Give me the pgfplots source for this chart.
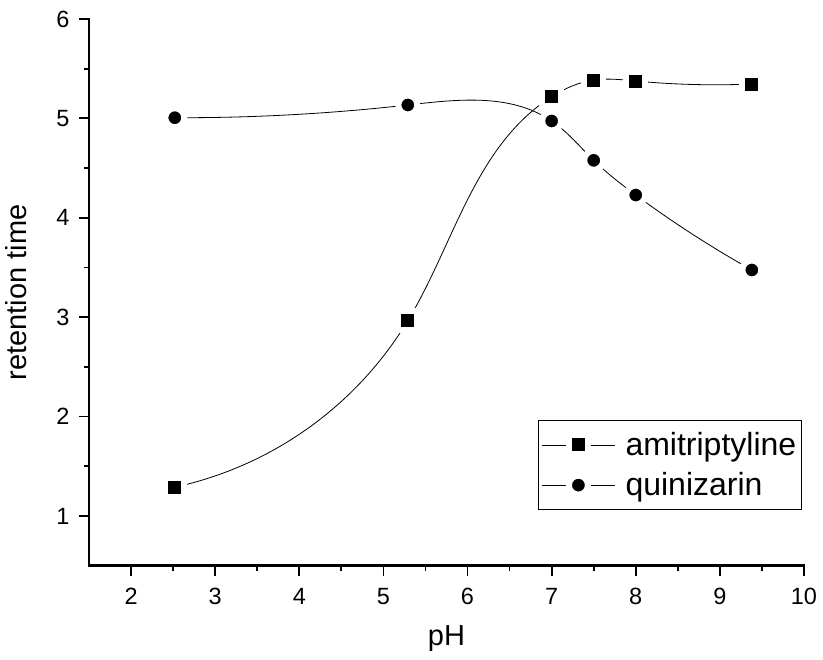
\documentclass[border=0pt]{standalone}
\usepackage{fontspec}
\setmainfont{Liberation Sans}
\usepackage{pgfplots}
\pgfplotsset{compat=1.18}
\usetikzlibrary{hobby}
\begin{document}
\begin{tikzpicture}
\path (-89pt,-94.3pt) rectangle (734pt,565.7pt);
\begin{axis}[
  at={(0pt,0pt)}, anchor=south west,
  scale only axis, width=715pt, height=546.7pt,
  xmin=1.5, xmax=10, ymin=0.5, ymax=6,
  axis x line*=bottom, axis y line*=left,
  axis line style={line width=2.4pt, line cap=rect},
  xtick={2,3,...,10}, ytick={1,2,...,6},
  minor x tick num=1, minor y tick num=1,
  tick align=outside, major tick length=10pt, minor tick length=5pt,
  every tick/.style={black, line width=1.8pt},
  tick label style={font=\fontsize{23.5}{28}\selectfont},
  xticklabel style={yshift=-9pt},
  yticklabel style={xshift=-6pt},
  /pgf/number format/assume math mode=true,
  label style={font=\fontsize{29}{34}\selectfont},
  xlabel={pH}, ylabel={retention time},
  xlabel shift=14pt, ylabel shift=23pt,
  legend style={at={(rel axis cs:0.997,0.2665)}, anchor=north east,
    draw=black, line width=1.2pt, font=\fontsize{32}{38}\selectfont,
    cells={anchor=west}, row sep=11.5pt, inner xsep=3pt, inner ysep=10pt},
  legend image code/.code={
    \draw[black, line width=0.8pt] (0pt,0pt) -- (73pt,0pt);
    \draw[#1] plot[only marks] coordinates {(36.5pt,0pt)};
    \path (81pt,0pt);
  },
]
% lines
\addplot[black, line width=0.8pt, hobby, forget plot] coordinates {
 (2.52,1.29) (5.29,2.965) (7.0,5.218) (7.5,5.386) (8.0,5.376) (9.38,5.346)};
\addplot[black, line width=0.8pt, hobby, forget plot] coordinates {
 (2.52,5.007) (5.29,5.135) (7.0,4.974) (7.5,4.578) (8.0,4.229) (9.38,3.475)};
% markers
\addplot[only marks, mark=square*, mark size=9.5pt,
  mark options={fill=black, draw=white, line width=6pt}] coordinates {
 (2.52,1.29) (5.29,2.965) (7.0,5.218) (7.5,5.386) (8.0,5.376) (9.38,5.346)};
\addlegendentry{amitriptyline}
\addplot[only marks, mark=*, mark size=9.5pt,
  mark options={fill=black, draw=white, line width=6pt}] coordinates {
 (2.52,5.007) (5.29,5.135) (7.0,4.974) (7.5,4.578) (8.0,4.229) (9.38,3.475)};
\addlegendentry{quinizarin}
\end{axis}
\end{tikzpicture}
\end{document}
